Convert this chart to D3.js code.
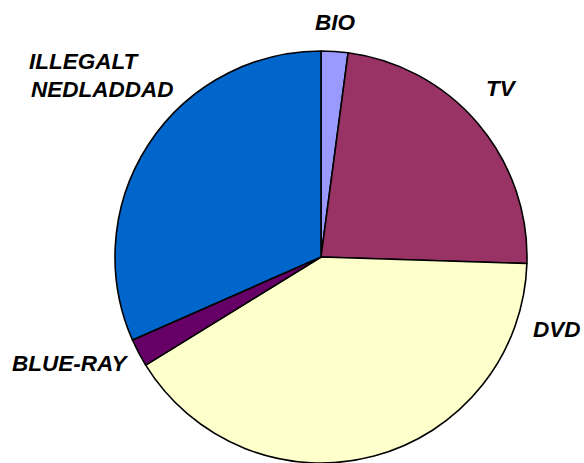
<!DOCTYPE html>
<html>
<head>
<meta charset="utf-8">
<script src="https://cdn.jsdelivr.net/npm/d3@7"></script>
<style>
  html, body { margin: 0; padding: 0; background: #fff; }
  svg { display: block; }
  text { font-family: "Liberation Sans", Arial, sans-serif; font-weight: bold; font-style: italic; font-size: 22.5px; fill: #000; }
</style>
</head>
<body>
<svg id="chart" width="584" height="463"></svg>
<script>
const categories = ["BIO", "TV", "DVD", "BLUE-RAY", "ILLEGALT NEDLADDAD"];
const values = [2.1, 23.4, 40.7, 2.2, 31.6];
const colors = ["#9999FF", "#993366", "#FFFFCC", "#660066", "#0066CC"];
const labelLines = [["BIO"], ["TV"], ["DVD"], ["BLUE-RAY"], ["ILLEGALT", "NEDLADDAD"]];

const W = 584, H = 463;
const cx = 321, cy = 257, r = 206;

const svg = d3.select("#chart");
const g = svg.append("g").attr("transform", `translate(${cx},${cy})`);

const pie = d3.pie().sort(null).value(d => d.v);
const data = categories.map((c, i) => ({ c, v: values[i], col: colors[i], lines: labelLines[i] }));
const arcs = pie(data);
const arc = d3.arc().innerRadius(0).outerRadius(r);

g.selectAll("path").data(arcs).enter().append("path")
  .attr("d", arc)
  .attr("fill", d => d.data.col)
  .attr("stroke", "#000")
  .attr("stroke-width", 1.6)
  .attr("stroke-linejoin", "round");

const labelPos = {
  "BIO": [315, 30],
  "TV": [486, 96],
  "DVD": [533, 337],
  "BLUE-RAY": [12, 371],
  "ILLEGALT NEDLADDAD": [29, 69]
};
data.forEach(d => {
  const p = labelPos[d.c];
  const t = svg.append("text").attr("x", p[0]).attr("y", p[1]);
  d.lines.forEach((ln, i) => {
    t.append("tspan").attr("x", p[0] + (i ? 2 : 0)).attr("dy", i ? 28 : 0).text(ln);
  });
});
</script>
</body>
</html>
